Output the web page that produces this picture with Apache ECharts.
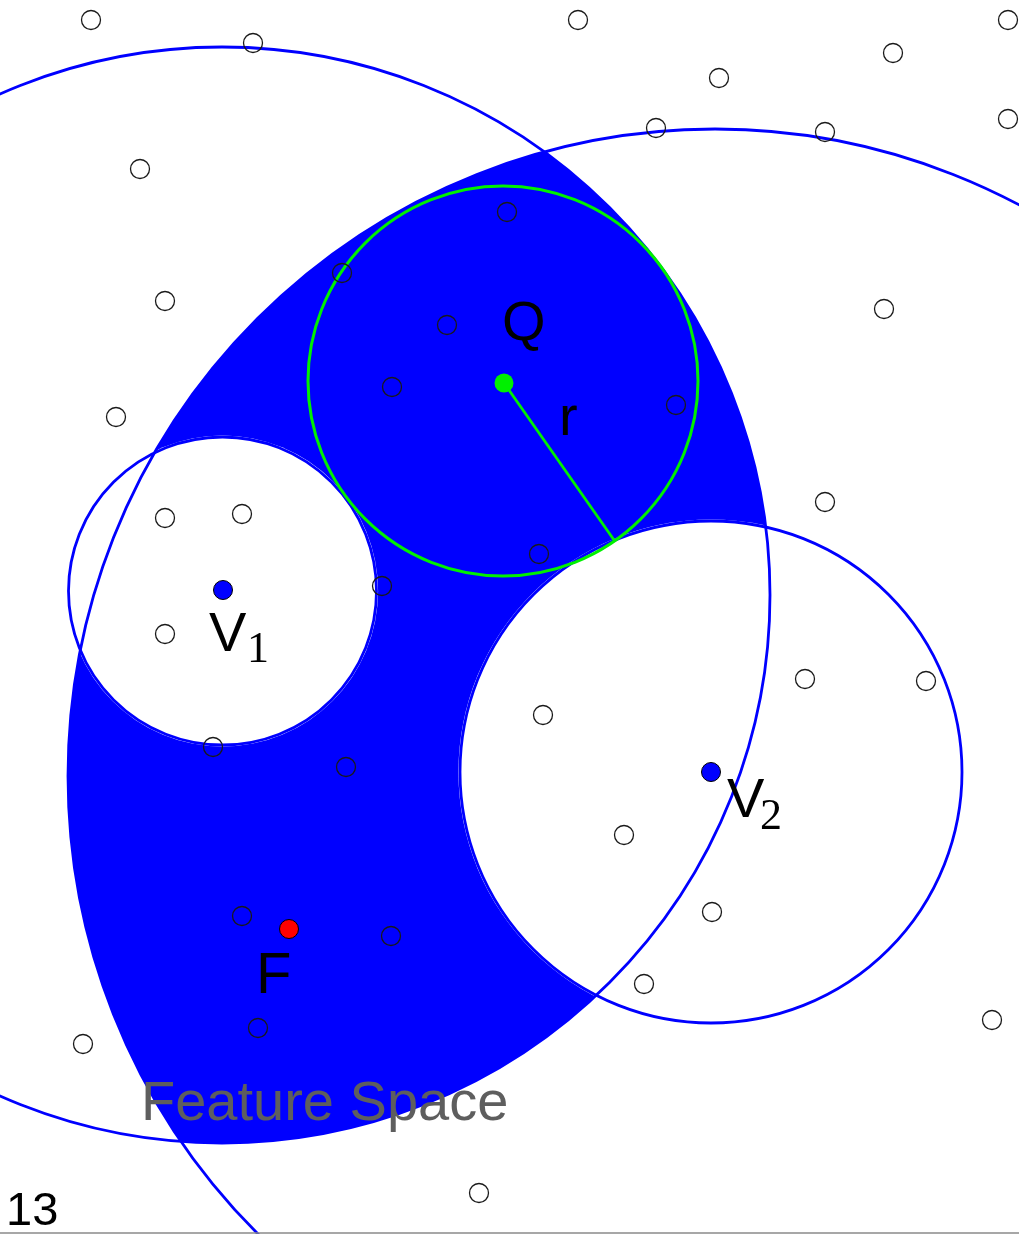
<!DOCTYPE html>
<html><head><meta charset="utf-8">
<script src="https://cdn.jsdelivr.net/npm/echarts@6/dist/echarts.min.js"></script>
<style>html,body{margin:0;padding:0;background:#fff}#c{width:1019px;height:1234px}</style>
</head><body><div id="c"></div>
<script>
// ---- data (feature-space coordinates, x to the right, y downward) ----
const xRange = [0, 1019];
const yRange = [0, 1234];
// large circles C1, C2 : [cx, cy, r]
const bigCircles = [[222, 595, 548], [715, 776, 647]];
// circles around V1, V2 : [cx, cy, r]
const cellCircles = [[222.5, 591, 154], [711, 772, 251]];
// query circle around Q : [cx, cy, r]
const queryCircle = [503, 381, 195];
// radius r : from Q to a point on the query circle
const radiusSegment = [[504, 383], [614, 540]];
// hollow sample points
const samplePoints = [
  [91, 20], [578, 20], [1008, 20], [253, 43], [893, 53], [719, 78], [1008, 119],
  [656, 128], [825, 132], [140, 169], [507, 212], [342, 273], [165, 301], [884, 309],
  [447, 325], [392, 387], [676, 405], [116, 417], [825, 502], [165, 518], [242, 514],
  [539, 554], [382, 586], [165, 634], [805, 679], [926, 681], [543, 715], [213, 747],
  [346, 767], [624, 835], [712, 912], [242, 916], [391, 936], [644, 984], [258, 1028],
  [83, 1044], [992, 1020], [479, 1193]
];
// named points
const keyNames = ['Q', 'V1', 'V2', 'F'];
const keyPoints = [[504, 383], [223, 590], [711, 772], [289, 929]];
// labels
const labelTexts = ['Q', 'r', 'V', '1', 'V', '2', 'F', 'Feature Space', '13'];
const labelAnchors = [[502, 325], [559, 420], [209, 636], [247, 650], [727, 802], [760, 817], [256, 977], [141, 1105], [6, 1212]];
// page base line
const baseLine = [[0, 1233], [1019, 1233]];

// ---- styles ----
const BLUE = '#0000ff', GREEN = '#00f000';
const SANS = '"Liberation Sans", Arial, sans-serif';
const SERIF = '"Liberation Serif", "Times New Roman", serif';
const keyColors = ['#00f000', '#0000ff', '#0000ff', '#ff0000'];
const keyBorders = [0, 1, 1, 1];
const labelStyle = [
  [56, SANS, '#000'], [56, SANS, '#000'], [56, SANS, '#000'], [44, SERIF, '#000'],
  [56, SANS, '#000'], [44, SERIF, '#000'], [58, SANS, '#000'], [56, SANS, '#5e5e5e'], [47, SANS, '#000']
];

// ---- helpers ----
function circleShape(api, c, extra) {
  const p = api.coord([c[0], c[1]]);
  const s = api.size([c[2], c[2]]);
  return { cx: p[0], cy: p[1], r: Math.abs(s[0]) + (extra || 0) };
}
function intersections(a, b) {
  const dx = b[0] - a[0], dy = b[1] - a[1];
  const d = Math.hypot(dx, dy);
  const l = (a[2] * a[2] - b[2] * b[2] + d * d) / (2 * d);
  const h = Math.sqrt(a[2] * a[2] - l * l);
  const ux = dx / d, uy = dy / d;
  const px = a[0] + l * ux, py = a[1] + l * uy;
  return [[px - h * uy, py + h * ux], [px + h * uy, py - h * ux]];
}
function arcPoints(c, p1, p2, n) {
  const a1 = Math.atan2(p1[1] - c[1], p1[0] - c[0]);
  let a2 = Math.atan2(p2[1] - c[1], p2[0] - c[0]);
  let d = a2 - a1;
  while (d > Math.PI) d -= 2 * Math.PI;
  while (d < -Math.PI) d += 2 * Math.PI;
  const pts = [];
  for (let i = 0; i <= n; i++) {
    const a = a1 + d * i / n;
    pts.push([c[0] + c[2] * Math.cos(a), c[1] + c[2] * Math.sin(a)]);
  }
  return pts;
}

const chart = echarts.init(document.getElementById('c'), null, { renderer: 'canvas' });
const option = {
  animation: false,
  backgroundColor: '#fff',
  grid: { left: 0, right: 0, top: 0, bottom: 0 },
  xAxis: { type: 'value', min: xRange[0], max: xRange[1], show: false },
  yAxis: { type: 'value', min: yRange[0], max: yRange[1], inverse: true, show: false },
  series: [
    { // lens fill = C1 ∩ C2
      type: 'custom', z: 1, silent: true, clip: false, data: [0],
      renderItem: function (params, api) {
        const c1 = bigCircles[0], c2 = bigCircles[1];
        const ip = intersections(c1, c2);
        const top = ip[0][1] < ip[1][1] ? ip[0] : ip[1];
        const bot = ip[0][1] < ip[1][1] ? ip[1] : ip[0];
        const pts = arcPoints(c2, top, bot, 240).concat(arcPoints(c1, bot, top, 240));
        return { type: 'polygon', shape: { points: pts.map(p => api.coord(p)) }, style: { fill: BLUE } };
      }
    },
    { // white interiors of V1, V2 circles
      type: 'custom', z: 2, silent: true, clip: false, data: cellCircles,
      renderItem: function (params, api) {
        return { type: 'circle', shape: circleShape(api, cellCircles[params.dataIndex], 1.6), style: { fill: '#fff' } };
      }
    },
    { // outlines of C1, C2
      type: 'custom', z: 3, silent: true, clip: false, data: bigCircles,
      renderItem: function (params, api) {
        return { type: 'circle', shape: circleShape(api, bigCircles[params.dataIndex]), style: { fill: 'none', stroke: BLUE, lineWidth: 2.8 } };
      }
    },
    { // outlines of V1, V2 circles
      type: 'custom', z: 3, silent: true, clip: false, data: cellCircles,
      renderItem: function (params, api) {
        return { type: 'circle', shape: circleShape(api, cellCircles[params.dataIndex]), style: { fill: 'none', stroke: BLUE, lineWidth: 2.8 } };
      }
    },
    { // query circle and radius
      type: 'custom', z: 4, silent: true, clip: false, data: [0],
      renderItem: function (params, api) {
        const a = api.coord(radiusSegment[0]), b = api.coord(radiusSegment[1]);
        return { type: 'group', children: [
          { type: 'circle', shape: circleShape(api, queryCircle), style: { fill: 'none', stroke: GREEN, lineWidth: 3 } },
          { type: 'line', shape: { x1: a[0], y1: a[1], x2: b[0], y2: b[1] }, style: { stroke: GREEN, lineWidth: 2.8 } }
        ] };
      }
    },
    { // base line
      type: 'custom', z: 4, silent: true, clip: false, data: [0],
      renderItem: function (params, api) {
        const a = api.coord(baseLine[0]), b = api.coord(baseLine[1]);
        return { type: 'line', shape: { x1: a[0], y1: a[1], x2: b[0], y2: b[1] }, style: { stroke: '#8a8a8a', lineWidth: 1.4 } };
      }
    },
    { // hollow sample points
      type: 'scatter', z: 5, silent: true, symbol: 'circle', symbolSize: 19,
      itemStyle: { color: 'rgba(0,0,0,0)', borderColor: '#1a1a1a', borderWidth: 1.3, opacity: 1 },
      data: samplePoints
    },
    { // named points
      type: 'scatter', z: 6, silent: true, symbol: 'circle', symbolSize: 19,
      data: keyPoints.map((p, i) => ({ name: keyNames[i], value: p,
        itemStyle: { color: keyColors[i], borderColor: '#000', borderWidth: keyBorders[i], opacity: 1 } }))
    },
    { // text labels
      type: 'custom', z: 7, silent: true, clip: false, data: labelTexts.map((t, i) => i),
      renderItem: function (params, api) {
        const i = params.dataIndex;
        const p = api.coord(labelAnchors[i]);
        const st = labelStyle[i];
        return { type: 'text', x: p[0], y: p[1], style: { text: labelTexts[i], fontSize: st[0], fontFamily: st[1], fill: st[2], align: 'left', verticalAlign: 'middle' } };
      }
    }
  ]
};
chart.setOption(option);
</script>
</body></html>
